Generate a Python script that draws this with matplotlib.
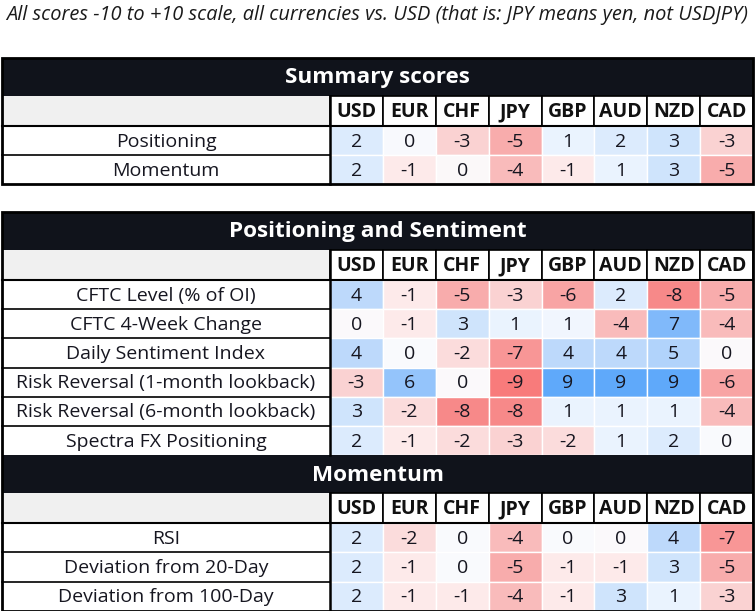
import matplotlib
matplotlib.use("Agg")
import matplotlib.pyplot as plt
from matplotlib.patches import Rectangle
from matplotlib.colors import LinearSegmentedColormap

plt.rcParams['font.family'] = ['Open Sans', 'DejaVu Sans']

title_text = "All scores -10 to +10 scale, all currencies vs. USD (that is: JPY means yen, not USDJPY)"
currencies = ["USD", "EUR", "CHF", "JPY", "GBP", "AUD", "NZD", "CAD"]

summary_title = "Summary scores"
summary_rows = ["Positioning", "Momentum"]
summary_vals = [
    [2, 0.2, -3, -5, 1, 2, 3, -3],
    [2, -1, -0.2, -4, -1, 1, 3, -5],
]

pos_title = "Positioning and Sentiment"
pos_rows = ["CFTC Level (% of OI)", "CFTC 4-Week Change", "Daily Sentiment Index",
            "Risk Reversal (1-month lookback)", "Risk Reversal (6-month lookback)",
            "Spectra FX Positioning"]
pos_vals = [
    [4, -1, -5, -3, -6, 2, -8, -5],
    [-0.1, -1, 3, 1, 0.6, -4, 7, -4],
    [4, 0.1, -2, -7, 4, 4, 5, -0.1],
    [-3, 6, -0.1, -9, 9, 9, 9, -6],
    [3, -2, -8, -8, 1, 1, 1, -4],
    [2, -1, -2, -3, -2, 1, 2, 0.1],
]

mom_title = "Momentum"
mom_rows = ["RSI", "Deviation from 20-Day", "Deviation from 100-Day"]
mom_vals = [
    [2, -2, 0.1, -4, 0.1, -0.1, 4, -7],
    [2, -1, 0.1, -5, -1, -1, 3, -5],
    [2, -1, -1, -4, -1, 3, 1, -3],
]

cmap = LinearSegmentedColormap.from_list("score", [
    (0.00, "#f66e6e"), (0.05, "#f87c7c"), (0.10, "#f78a8a"), (0.15, "#f89696"),
    (0.20, "#f8a4a4"), (0.25, "#f8acac"), (0.30, "#f9bcbc"), (0.35, "#fad2d2"),
    (0.40, "#fbdcdc"), (0.45, "#fdeaea"), (0.50, "#fbfbfd"),
    (0.55, "#eaf3fe"), (0.60, "#dcebfd"), (0.65, "#cfe4fc"), (0.70, "#bdd9fb"),
    (0.75, "#b3d4fb"), (0.80, "#94c4fb"), (0.85, "#80b9fa"), (0.90, "#70b1fa"),
    (0.95, "#60a9fa"), (1.00, "#55a2f8")])

W, H = 755, 611
fig = plt.figure(figsize=(W / 100, H / 100), dpi=100)
ax = fig.add_axes([0, 0, 1, 1])
ax.set_xlim(0, W)
ax.set_ylim(H, 0)
ax.axis("off")

X0, X1 = 2, 753
LABEL_R = 330
COLW = (X1 - LABEL_R) / len(currencies)
HEAD_H = 38
COLHEAD_H = 30
ROW_H = 29.2
DARK = "#10131b"
TXT = "#161620"
FS = 14

ax.text(W / 2, 15, title_text, ha="center", va="center", fontsize=14.4,
        style="italic", color="#1a1a1a")


def section(y, title, rows, vals):
    top = y
    ax.add_patch(Rectangle((X0, y), X1 - X0, HEAD_H, facecolor=DARK, edgecolor="none"))
    ax.text((X0 + X1) / 2, y + HEAD_H / 2 + 1, title, ha="center", va="center",
            fontsize=16.2, fontweight="bold", color="white")
    y += HEAD_H
    ax.add_patch(Rectangle((X0, y), LABEL_R - X0, COLHEAD_H, facecolor="#f0f0f0",
                           edgecolor="none"))
    for j, c in enumerate(currencies):
        x = LABEL_R + j * COLW
        ax.add_patch(Rectangle((x, y), COLW, COLHEAD_H, facecolor="white",
                               edgecolor="black", linewidth=1.2))
        ax.text(x + COLW / 2, y + COLHEAD_H / 2 + 1, c, ha="center", va="center",
                fontsize=FS, fontweight="bold", color="#111111")
    y += COLHEAD_H
    ax.plot([X0, X1], [y, y], color="black", linewidth=1.5)
    for i, (name, rv) in enumerate(zip(rows, vals)):
        ax.add_patch(Rectangle((X0, y), LABEL_R - X0, ROW_H, facecolor="white",
                               edgecolor="none"))
        ax.text((X0 + LABEL_R) / 2, y + ROW_H / 2 + 1, name, ha="center", va="center",
                fontsize=FS, color=TXT)
        for j, v in enumerate(rv):
            x = LABEL_R + j * COLW
            ax.add_patch(Rectangle((x, y), COLW, ROW_H,
                                   facecolor=cmap((v + 10) / 20),
                                   edgecolor="white", linewidth=1.0))
            ax.text(x + COLW / 2, y + ROW_H / 2 + 1, str(int(round(v))),
                    ha="center", va="center", fontsize=FS, color=TXT)
        if i < len(rows) - 1:
            ax.plot([X0, LABEL_R], [y + ROW_H, y + ROW_H], color="black", linewidth=1.2)
        y += ROW_H
    ax.plot([LABEL_R, LABEL_R], [top + HEAD_H, y], color="black", linewidth=1.8)
    return y


def frame(y0, y1):
    ax.add_patch(Rectangle((X0, y0), X1 - X0, y1 - y0, facecolor="none",
                           edgecolor="black", linewidth=2))


y_end = section(58, summary_title, summary_rows, summary_vals)
frame(58, y_end)
y2 = section(212, pos_title, pos_rows, pos_vals)
y3 = section(y2, mom_title, mom_rows, mom_vals)
frame(212, y3)

fig.savefig("out.png", dpi=100)
